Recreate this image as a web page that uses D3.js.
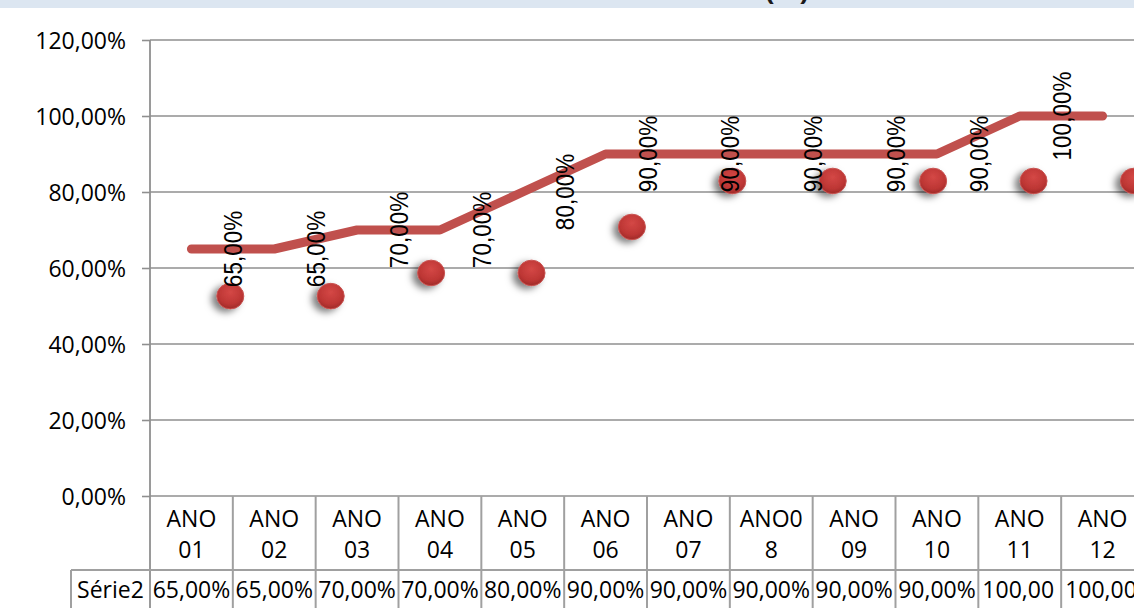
<!DOCTYPE html>
<html>
<head>
<meta charset="utf-8">
<script src="https://cdn.jsdelivr.net/npm/d3@7"></script>
<style>
  body { margin: 0; background: #fff; overflow: hidden; }
  svg { display: block; }
</style>
</head>
<body>
<svg id="chart" width="1134" height="608"></svg>
<script>
// ---- data ----
const categories = ["ANO 01", "ANO 02", "ANO 03", "ANO 04", "ANO 05", "ANO 06",
                    "ANO 07", "ANO08", "ANO 09", "ANO 10", "ANO 11", "ANO 12"];
const serieName = "Série2";
const serie2 = [65, 65, 70, 70, 80, 90, 90, 90, 90, 90, 100, 100];
// marker series sits on its own horizontal scale
const markerSlots = [1, 2, 3, 4, 5, 6, 7, 8, 9, 10];
const markerValues = [52.6, 52.6, 58.7, 58.7, 70.8, 82.9, 82.9, 82.9, 82.9, 82.9];
const yTicks = [0, 20, 40, 60, 80, 100, 120];
const titleText = "(%)";

// ---- layout ----
const W = 1134, H = 608;
const plot = { left: 150, right: 1144, top: 40, bottom: 496 };
const table = { headerBottom: 570, labelLeft: 71, bottom: H };
const LSX = 1.18;                      // horizontal stretch of the rotated value labels
const uiSize = 23;
const gridColor = "#8f8f8f";
const tableColor = "#a0a0a0";
const lineColor = "#C0504D";
const uiFont = "'Open Sans', 'Liberation Sans', sans-serif";
const labelFont = "'Liberation Sans', Arial, sans-serif";

const pt = d3.formatLocale({ decimal: ",", thousands: ".", grouping: [3], currency: ["R$", ""] });
const fmt2 = pt.format(".2f");
const pct = v => fmt2(v) + "%";

const svg = d3.select("#chart");
const defs = svg.append("defs");

// scales
const x = d3.scaleBand().domain(categories).range([plot.left, plot.right]).paddingInner(0).paddingOuter(0);
const y = d3.scaleLinear().domain([0, 120]).range([plot.bottom, plot.top]);
const xs = d3.scaleLinear().domain([0.2, 10.1]).range([plot.left, plot.right]);

// title band
svg.append("rect").attr("x", 0).attr("y", 0).attr("width", W).attr("height", 8).attr("fill", "#DCE6F1");
svg.append("text")
  .attr("x", 787).attr("y", 0)
  .attr("text-anchor", "middle")
  .attr("font-family", uiFont).attr("font-weight", 700).attr("font-size", 28)
  .attr("fill", "#1a1a1a")
  .text(titleText);

// gridlines
svg.append("g").selectAll("line").data(yTicks).join("line")
  .attr("x1", plot.left).attr("x2", plot.right)
  .attr("y1", d => y(d)).attr("y2", d => y(d))
  .attr("stroke", gridColor).attr("stroke-width", 1.6);

// value axis
const yAxis = svg.append("g")
  .attr("transform", `translate(${plot.left},0)`)
  .call(d3.axisLeft(y).tickValues(yTicks).tickSize(8).tickFormat(pct));
yAxis.select(".domain").remove();
yAxis.selectAll(".tick line").attr("stroke", gridColor).attr("stroke-width", 1.6);
yAxis.selectAll(".tick text")
  .attr("x", -24).attr("dy", "0.36em")
  .attr("font-family", uiFont).attr("font-size", uiSize).attr("fill", "#000");

// vertical axis line, running down through the table
svg.append("line")
  .attr("x1", plot.left).attr("x2", plot.left).attr("y1", plot.top).attr("y2", table.bottom)
  .attr("stroke", gridColor).attr("stroke-width", 1.8);

// ---- data table under the category axis ----
const tbl = svg.append("g");
tbl.selectAll("line.col").data(categories).join("line")
  .attr("class", "col")
  .attr("x1", d => x(d) + x.bandwidth()).attr("x2", d => x(d) + x.bandwidth())
  .attr("y1", plot.bottom).attr("y2", table.bottom)
  .attr("stroke", tableColor).attr("stroke-width", 2);
tbl.append("line")
  .attr("x1", table.labelLeft).attr("x2", plot.right)
  .attr("y1", table.headerBottom).attr("y2", table.headerBottom)
  .attr("stroke", tableColor).attr("stroke-width", 2);
tbl.append("line")
  .attr("x1", table.labelLeft).attr("x2", table.labelLeft)
  .attr("y1", table.headerBottom).attr("y2", table.bottom)
  .attr("stroke", tableColor).attr("stroke-width", 2);

// header cells with wrapping
function wrapLabel(label, maxW, measure) {
  const lines = [];
  label.split(" ").forEach(w => {
    if (measure(w) <= maxW) { lines.push(w); return; }
    let cur = "";
    for (const ch of w) {
      if (measure(cur + ch) > maxW && cur) { lines.push(cur); cur = ch; }
      else cur += ch;
    }
    if (cur) lines.push(cur);
  });
  return lines;
}
const probe = svg.append("text").attr("font-family", uiFont).attr("font-size", uiSize);
const measure = s => probe.text(s).node().getComputedTextLength();

categories.forEach(c => {
  const lines = wrapLabel(c, x.bandwidth() - 12, measure);
  const cx = x(c) + x.bandwidth() / 2;
  lines.forEach((ln, i) => {
    tbl.append("text")
      .attr("x", cx).attr("y", 519 + i * 31)
      .attr("text-anchor", "middle").attr("dy", "0.36em")
      .attr("font-family", uiFont).attr("font-size", uiSize).attr("fill", "#000")
      .text(ln);
  });
});

// series row
tbl.append("text")
  .attr("x", (table.labelLeft + plot.left) / 2).attr("y", 590)
  .attr("text-anchor", "middle").attr("dy", "0.36em")
  .attr("font-family", uiFont).attr("font-size", uiSize).attr("fill", "#000")
  .text(serieName);

// value cells: centred when they fit, otherwise left-aligned and cut at the cell edge
categories.forEach((c, i) => {
  const s = pct(serie2[i]);
  const w = measure(s);
  const cellL = x(c), cellW = x.bandwidth();
  const fits = w <= cellW - 2;
  const id = "cell" + i;
  defs.append("clipPath").attr("id", id).append("rect")
    .attr("x", cellL).attr("y", table.headerBottom)
    .attr("width", fits ? cellW : cellW - 7).attr("height", 40);
  tbl.append("g").attr("clip-path", `url(#${id})`)
    .append("text")
    .attr("x", fits ? cellL + cellW / 2 : cellL + 4).attr("y", 590)
    .attr("text-anchor", fits ? "middle" : "start").attr("dy", "0.36em")
    .attr("font-family", uiFont).attr("font-size", uiSize).attr("fill", "#000")
    .text(s);
});
probe.remove();

// ---- line series ----
const lineData = categories.map((c, i) => ({ c, v: serie2[i] }));
svg.append("path")
  .datum(lineData)
  .attr("d", d3.line().x(d => x(d.c) + x.bandwidth() / 2).y(d => y(d.v)))
  .attr("fill", "none").attr("stroke", lineColor).attr("stroke-width", 9)
  .attr("stroke-linecap", "round").attr("stroke-linejoin", "round");

// ---- marker series ----
const shadow = defs.append("filter").attr("id", "mshadow")
  .attr("x", "-80%").attr("y", "-80%").attr("width", "260%").attr("height", "260%");
shadow.append("feDropShadow").attr("dx", -5).attr("dy", 3).attr("stdDeviation", 3.5)
  .attr("flood-color", "#000").attr("flood-opacity", 0.5);
const grad = defs.append("radialGradient").attr("id", "mfill")
  .attr("cx", "50%").attr("cy", "35%").attr("r", "65%");
grad.append("stop").attr("offset", "0%").attr("stop-color", "#D44846");
grad.append("stop").attr("offset", "70%").attr("stop-color", "#BD3634");
grad.append("stop").attr("offset", "100%").attr("stop-color", "#9E2A28");

svg.append("g").selectAll("ellipse").data(markerSlots).join("ellipse")
  .attr("cx", d => xs(d)).attr("cy", (d, i) => y(markerValues[i]))
  .attr("rx", 13.5).attr("ry", 12.8)
  .attr("fill", "url(#mfill)")
  .attr("stroke", "#C85250").attr("stroke-width", 1)
  .attr("filter", "url(#mshadow)");

// ---- data labels (rotated, centred on the column's right edge) ----
svg.append("g").selectAll("text").data(lineData).join("text")
  .attr("transform", d => `translate(${x(d.c) + x.bandwidth()},${y(d.v)}) scale(${LSX},1) rotate(-90)`)
  .attr("text-anchor", "middle").attr("dy", "0.36em")
  .attr("font-family", labelFont).attr("font-size", 22.5).attr("fill", "#000")
  .text(d => pct(d.v));
</script>
</body>
</html>
